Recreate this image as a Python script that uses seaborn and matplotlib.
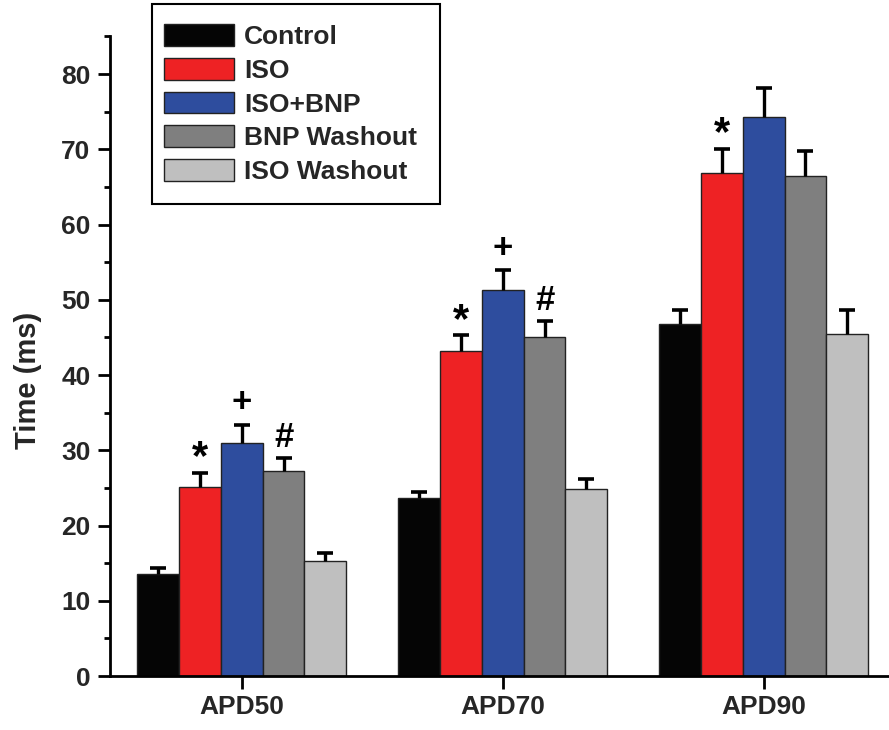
import numpy as np
import pandas as pd
import seaborn as sns
import matplotlib
matplotlib.use("Agg")
import matplotlib.pyplot as plt
from matplotlib.patches import Rectangle

# Action potential duration measurements (ms), mean and upper SEM
measures = ["APD50", "APD70", "APD90"]
conditions = ["Control", "ISO", "ISO+BNP", "BNP Washout", "ISO Washout"]

control = [13.6, 23.6, 46.8]
iso = [25.1, 43.2, 66.9]
iso_bnp = [31.0, 51.3, 74.3]
bnp_washout = [27.2, 45.0, 66.5]
iso_washout = [15.3, 24.9, 45.4]

control_err = [0.8, 0.8, 1.8]
iso_err = [1.9, 2.1, 3.2]
iso_bnp_err = [2.4, 2.6, 3.9]
bnp_washout_err = [1.8, 2.2, 3.3]
iso_washout_err = [1.0, 1.3, 3.2]

# Significance marks: (measure index, condition, symbol)
marks = [
    (0, "ISO", "*"), (0, "ISO+BNP", "+"), (0, "BNP Washout", "#"),
    (1, "ISO", "*"), (1, "ISO+BNP", "+"), (1, "BNP Washout", "#"),
    (2, "ISO", "*"),
]

colors = ["#050505", "#ee2224", "#2e4d9e", "#7f7f7f", "#bfbfbf"]

means = [control, iso, iso_bnp, bnp_washout, iso_washout]
errs = [control_err, iso_err, iso_bnp_err, bnp_washout_err, iso_washout_err]

rows = []
for cond, m, e in zip(conditions, means, errs):
    for meas, v, ev in zip(measures, m, e):
        rows.append({"Measure": meas, "Condition": cond, "Time": v, "Err": ev})
df = pd.DataFrame(rows)

sns.set_theme(style="white")
plt.rcParams["font.family"] = ["Liberation Sans", "DejaVu Sans"]
plt.rcParams["font.weight"] = "bold"

W, H = 889, 730
fig = plt.figure(figsize=(W / 100, H / 100), dpi=100)
ax = fig.add_axes([110 / W, 1 - 676 / H, 1 - 110 / W, (676 - 36.4) / H])

sns.barplot(data=df, x="Measure", y="Time", hue="Condition",
            order=measures, hue_order=conditions, palette=colors,
            errorbar=None, width=0.8, saturation=1,
            edgecolor="#222222", linewidth=1.0, ax=ax)

# Upper-only error bars with a cap, and significance symbols above them
bar_pos = {}
for cont, cond in zip(ax.containers, conditions):
    sub = df[df["Condition"] == cond].set_index("Measure").loc[measures]
    for i, (patch, (_, r)) in enumerate(zip(cont.patches, sub.iterrows())):
        xc = patch.get_x() + patch.get_width() / 2
        top = r["Time"] + r["Err"]
        bar_pos[(i, cond)] = (xc, top)
        ax.plot([xc, xc], [r["Time"], top], color="black", lw=2.4,
                solid_capstyle="butt", zorder=3)
        ax.plot([xc], [top], marker="_", markersize=12, mew=2.6,
                color="black", zorder=3)

sym_size = {"*": 30, "+": 25, "#": 25}
sym_off = {"*": -4, "+": 4, "#": 3}
for i, cond, sym in marks:
    xc, ytop = bar_pos[(i, cond)]
    ax.annotate(sym, (xc, ytop), xytext=(0, sym_off[sym]),
                textcoords="offset points", ha="center", va="bottom",
                fontsize=sym_size[sym], fontweight="bold", color="black")

ax.set_xlim(-0.505, 2.48)
ax.set_ylim(0, 85)
ax.set_yticks(np.arange(0, 81, 10))
ax.set_yticks(np.arange(5, 86, 10), minor=True)
ax.set_xlabel("")
ax.set_ylabel("Time (ms)", fontsize=21, fontweight="bold")
ax.yaxis.set_label_coords(-0.087, 0.4625)

for s in ["top", "right"]:
    ax.spines[s].set_visible(False)
for s in ["left", "bottom"]:
    ax.spines[s].set_color("black")
    ax.spines[s].set_linewidth(2.0)

ax.tick_params(axis="both", which="major", direction="out", length=9,
               width=2.0, color="black", labelsize=19, pad=5,
               left=True, bottom=True)
ax.tick_params(axis="y", which="minor", direction="out", length=4.5,
               width=2.0, color="black", left=True)
for lbl in ax.get_xticklabels() + ax.get_yticklabels():
    lbl.set_fontweight("bold")

# Legend entries inside a plain rectangular frame
leg = ax.legend(loc="upper left", bbox_to_anchor=(164 / W, 1 - 24 / H),
                bbox_transform=fig.transFigure, fontsize=19, frameon=False,
                handlelength=2.65, handleheight=0.9, handletextpad=0.38,
                labelspacing=0.33, borderpad=0, borderaxespad=0, title=None)
for t in leg.get_texts():
    t.set_fontweight("bold")
fig.add_artist(Rectangle((152 / W, 1 - 204 / H), (440 - 152) / W, 200 / H,
                         transform=fig.transFigure, fill=False,
                         edgecolor="black", linewidth=1.5, zorder=5))

fig.savefig("out.png", dpi=100)
